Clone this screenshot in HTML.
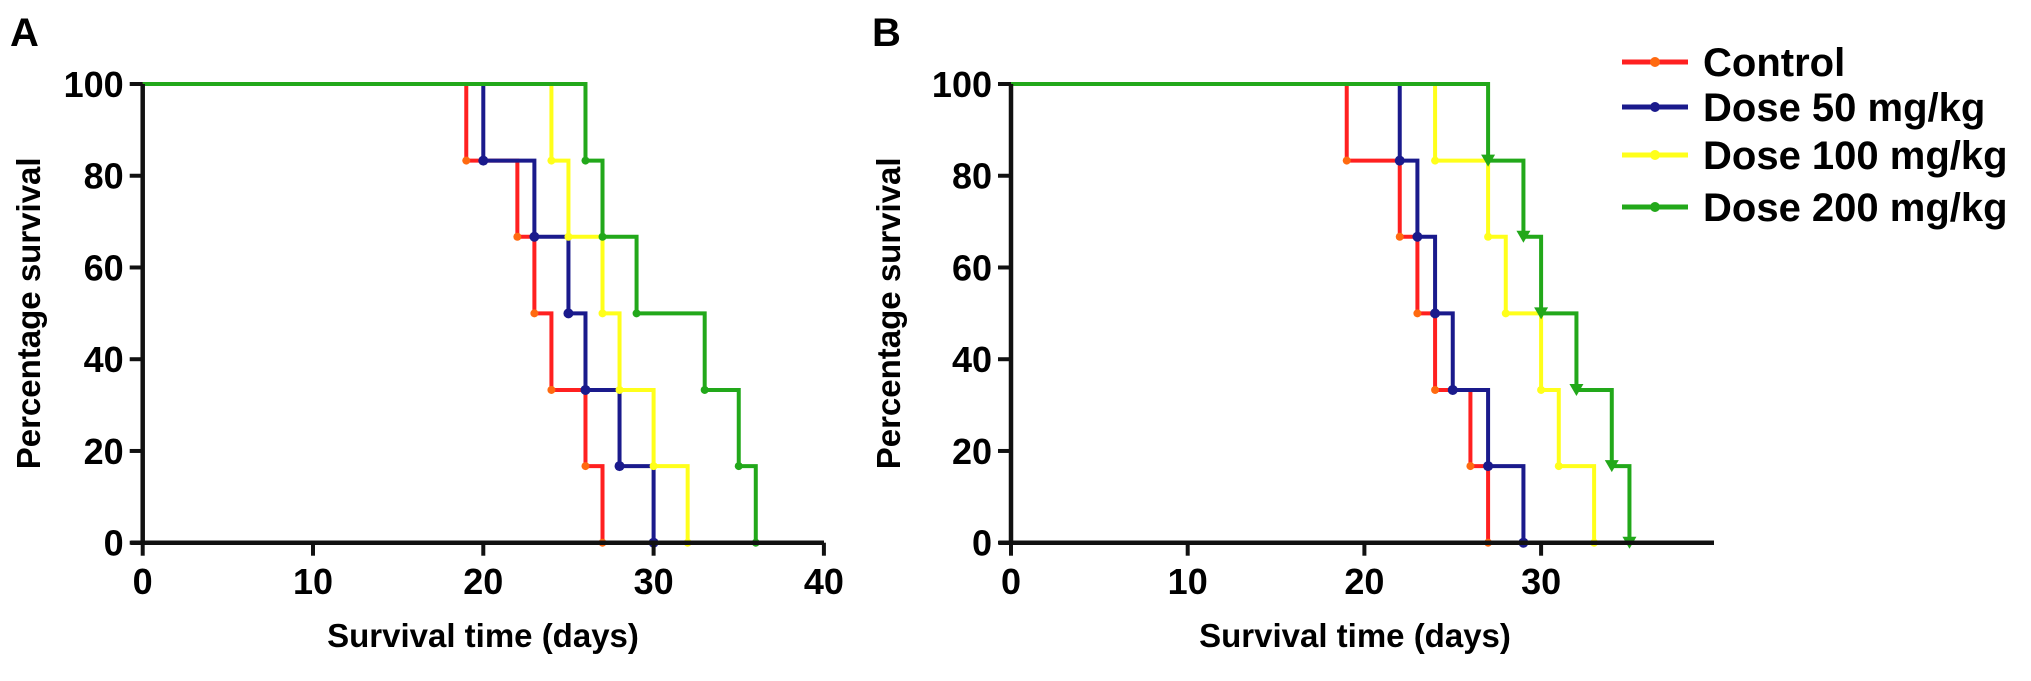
<!DOCTYPE html>
<html><head><meta charset="utf-8"><style>
html,body{margin:0;padding:0;background:#fff;}
svg{display:block;font-family:"Liberation Sans",Arial,sans-serif;font-weight:bold;}
</style></head><body>
<svg id="chart" width="2031" height="681" viewBox="0 0 2031 681" xmlns="http://www.w3.org/2000/svg">
<g id="root"></g>
</svg>
<script>
const seriesNames = ["Control", "Dose 50 mg/kg", "Dose 100 mg/kg", "Dose 200 mg/kg"];
const seriesColors = ["#ff2020", "#1a1a8c", "#ffff1a", "#22a81a"];
const aControlDays = [19, 22, 23, 24, 26, 27];
const aDose50Days = [20, 23, 25, 26, 28, 30];
const aDose100Days = [24, 25, 27, 28, 30, 32];
const aDose200Days = [26, 27, 29, 33, 35, 36];
const bControlDays = [19, 22, 23, 24, 26, 27];
const bDose50Days = [22, 23, 24, 25, 27, 29];
const bDose100Days = [24, 27, 28, 30, 31, 33];
const bDose200Days = [27, 29, 30, 32, 34, 35];
const survivalSteps = [83.3, 66.7, 50, 33.3, 16.7, 0];
const yTicks = [0, 20, 40, 60, 80, 100];
const aXTicks = [0, 10, 20, 30, 40];
const bXTicks = [0, 10, 20, 30];

const NS = "http://www.w3.org/2000/svg";
const root = document.getElementById("root");
function mk(tag, attrs, parent) {
  const e = document.createElementNS(NS, tag);
  for (const k in attrs) e.setAttribute(k, attrs[k]);
  (parent || root).appendChild(e);
  return e;
}
const Y0 = 542.7, Y100 = 84;
function yScale(v) { return Y0 + (Y100 - Y0) * v / 100; }

function panel(cfg) {
  const g = mk("g", {});
  
  
  const xs = d => cfg.x0 + d * cfg.ppd;
  const L = mk("text", {x: cfg.letterX, y: 46, "font-size": 40}, g);
  L.textContent = cfg.letter;
  
  
  cfg.series.forEach((days, i) => {
    const sg = mk("g", {}, g);
    
    
    let d = "M" + xs(0) + "," + yScale(100);
    let prev = 100;
    days.forEach((day, k) => {
      d += " L" + xs(day) + "," + yScale(prev) + " L" + xs(day) + "," + yScale(survivalSteps[k]);
      prev = survivalSteps[k];
    });
    const p = mk("path", {d: d, fill: "none", stroke: seriesColors[i], "stroke-width": 4}, sg);
    
    
    days.forEach((day, k) => {
      const cx = xs(day), cy = yScale(survivalSteps[k]);
      let m;
      if (cfg.letter === "B" && i === 3) {
        m = mk("path", {d: `M${cx-7},${cy-6} L${cx+7},${cy-6} L${cx},${cy+6} Z`, fill: seriesColors[i]}, sg);
      } else {
        m = mk("circle", {cx: cx, cy: cy, r: i === 1 ? 5 : 4, fill: i === 0 ? "#ff6a10" : seriesColors[i]}, sg);
      }
      
      
    });
  });
  const ax = mk("path", {d: `M${cfg.x0},${Y100} L${cfg.x0},${Y0} M${cfg.x0 - 12},${Y0} L${cfg.xEnd},${Y0}`, stroke: "#111", "stroke-width": 4.5, fill: "none"}, g);
  
  
  yTicks.forEach(v => {
    const y = yScale(v);
    const t = mk("line", {x1: cfg.x0 - 13, x2: cfg.x0, y1: y, y2: y, stroke: "#111", "stroke-width": 4}, g);
    
    
    const tl = mk("text", {x: cfg.x0 - 19, y: y + 13, "font-size": 36, "text-anchor": "end"}, g);
    tl.textContent = v;
    
    
  });
  cfg.xTicks.forEach(v => {
    const x = xs(v);
    const t = mk("line", {x1: x, x2: x, y1: Y0, y2: Y0 + 13, stroke: "#111", "stroke-width": 4}, g);
    
    
    const tl = mk("text", {x: x, y: 594, "font-size": 36, "text-anchor": "middle"}, g);
    tl.textContent = v;
    
    
  });
  const xt = mk("text", {x: cfg.xTitleX, y: 647, "font-size": 33, "text-anchor": "middle"}, g);
  xt.textContent = "Survival time (days)";
  
  
  const yt = mk("text", {x: 0, y: 0, "font-size": 33, "text-anchor": "middle", transform: `translate(${cfg.yTitleX},${(Y0 + Y100) / 2}) rotate(-90)`}, g);
  yt.textContent = "Percentage survival";
  
  
}

panel({name: "panel-a", letter: "A", letterX: 10, x0: 142.7, ppd: 17.03, xEnd: 824, xTicks: aXTicks,
  series: [aControlDays, aDose50Days, aDose100Days, aDose200Days], xTitleX: 483, yTitleX: 40});
panel({name: "panel-b", letter: "B", letterX: 872, x0: 1011, ppd: 17.67, xEnd: 1714, xTicks: bXTicks,
  series: [bControlDays, bDose50Days, bDose100Days, bDose200Days], xTitleX: 1355, yTitleX: 900});

const lg = mk("g", {});


const legendY = [62, 107, 155, 207];
seriesNames.forEach((n, i) => {
  const eg = mk("g", {}, lg);
  
  
  mk("line", {x1: 1622, x2: 1688, y1: legendY[i], y2: legendY[i], stroke: seriesColors[i], "stroke-width": 5}, eg);
  mk("circle", {cx: 1655, cy: legendY[i], r: 5, fill: i === 0 ? "#ff6a10" : seriesColors[i]}, eg);
  const t = mk("text", {x: 1703, y: legendY[i] + 14, "font-size": 40}, eg);
  t.textContent = n;
});
</script>
</body></html>
